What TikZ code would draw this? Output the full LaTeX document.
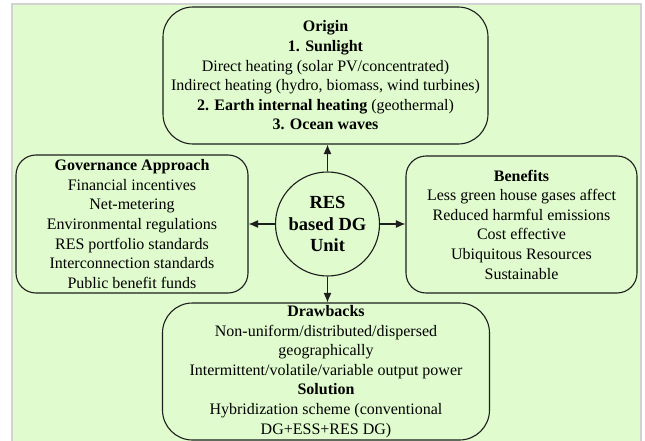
\documentclass[tikz,border=0pt]{standalone}
\usepackage{fontspec}
\setmainfont{Liberation Serif}
\usetikzlibrary{arrows.meta}
\definecolor{panel}{RGB}{224,251,205}
\definecolor{frame}{RGB}{210,210,210}
\definecolor{ink}{RGB}{30,30,30}
\begin{document}
\begin{tikzpicture}[x=1pt,y=-1pt,
  box/.style={draw=ink, line width=1.1pt, rounded corners=#1, fill=panel,
    align=center, inner sep=0pt, font=\fontsize{16}{19.6}\selectfont},
  hub/.style={circle, draw=ink, line width=1.1pt, fill=panel, minimum size=104pt,
    inner sep=0pt, align=center, font=\fontsize{18.5}{21.5}\selectfont\bfseries},
  link/.style={draw=ink, line width=1.1pt, -{Latex[length=9.5pt,width=8pt]}}]
  % page and panel
  \useasboundingbox (0,0) rectangle (645,441);
  \fill[white] (0,0) rectangle (645,441);
  \fill[panel] (12,4) rectangle (641,441);
  \draw[frame, line width=1.5pt] (12,441) -- (12,4) -- (641,4) -- (641,441);

  % central unit
  \node[hub] (hub) at (327.5,224) {RES\\based DG\\Unit};

  % surrounding boxes
  \node[box=30pt, minimum width=325pt, minimum height=137pt] (origin) at (325.5,75.5)
    {\textbf{Origin}\\
     \textbf{1. Sunlight}\\
     Direct heating (solar PV/concentrated)\\
     Indirect heating (hydro, biomass, wind turbines)\\
     \textbf{2. Earth internal heating} (geothermal)\\
     \textbf{3. Ocean waves}};

  \node[box=20pt, minimum width=232pt, minimum height=138pt] (gov) at (132,224)
    {\textbf{Governance Approach}\\
     Financial incentives\\
     Net-metering\\
     Environmental regulations\\
     RES portfolio standards\\
     Interconnection standards\\
     Public benefit funds};

  \node[box=20pt, minimum width=231pt, minimum height=137pt] (ben) at (521.5,224.5)
    {\textbf{Benefits}\\
     Less green house gases affect\\
     Reduced harmful emissions\\
     Cost effective\\
     Ubiquitous Resources\\
     Sustainable};

  \node[box=30pt, minimum width=327pt, minimum height=137pt] (drw) at (326,371.5)
    {\textbf{Drawbacks}\\
     Non-uniform/distributed/dispersed\\
     geographically\\
     Intermittent/volatile/variable output power\\
     \textbf{Solution}\\
     Hybridization scheme (conventional\\
     DG+ESS+RES DG)};

  % connectors
  \draw[link] (hub.north) -- (hub.north |- origin.south);
  \draw[link] (hub.south) -- (hub.south |- drw.north);
  \draw[link] (hub.west) -- (hub.west -| gov.east);
  \draw[link] (hub.east) -- (hub.east -| ben.west);
\end{tikzpicture}
\end{document}
